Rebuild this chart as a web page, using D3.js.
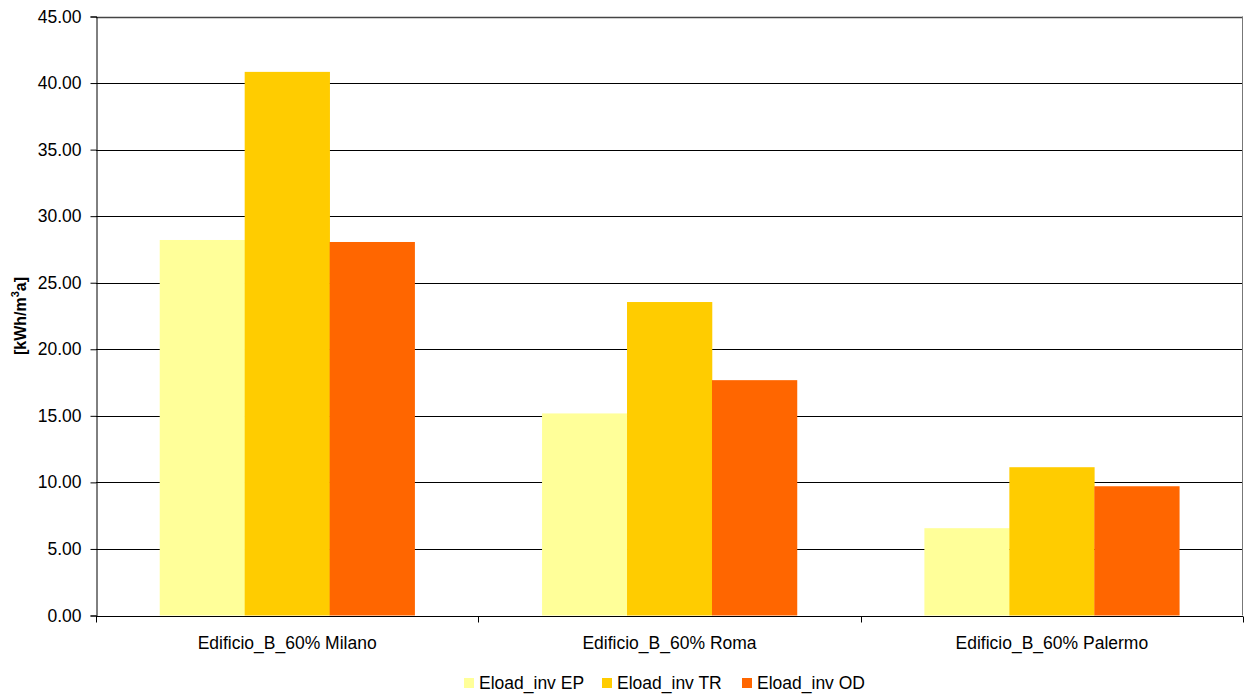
<!DOCTYPE html>
<html><head><meta charset="utf-8">
<script src="https://cdn.jsdelivr.net/npm/d3@7"></script>
<style>body{margin:0;background:#fff}svg{display:block;font-family:"Liberation Sans",Arial,sans-serif}</style>
</head><body><svg id="c" width="1244" height="697"></svg>
<script>
const categories = ["Edificio_B_60% Milano", "Edificio_B_60% Roma", "Edificio_B_60% Palermo"];
const seriesNames = ["Eload_inv EP", "Eload_inv TR", "Eload_inv OD"];
const seriesEP = [28.21, 15.18, 6.56];
const seriesTR = [40.84, 23.55, 11.14];
const seriesOD = [28.06, 17.68, 9.71];
const yTicks = [0, 5, 10, 15, 20, 25, 30, 35, 40, 45];
const colors = ["#FFFF99", "#FFCC00", "#FF6600"];
const seriesVals = [seriesEP, seriesTR, seriesOD];

const FS = 17.5;
const svg = d3.select("#c");
const L = 96, R = 1243, T = 16.5, B = 615.5;
const x = d3.scaleBand().domain(categories).range([L, R]).paddingInner(0).paddingOuter(0);
const y = d3.scaleLinear().domain([0, 45]).range([B, T]);
const inner = d3.scaleBand().domain(seriesNames).range([0, x.bandwidth()]).paddingOuter(0.75).paddingInner(0);

// gridlines
svg.append("g").selectAll("line").data(yTicks.filter(d => d > 0)).join("line")
  .attr("x1", L).attr("x2", R)
  .attr("y1", d => Math.round(y(d)) + 0.5).attr("y2", d => Math.round(y(d)) + 0.5)
  .attr("stroke", d => d === 45 ? "#444" : "#000").attr("stroke-width", d => d === 45 ? 1.5 : 1);

// right border
svg.append("line").attr("x1", R - 0.5).attr("x2", R - 0.5).attr("y1", T).attr("y2", B)
  .attr("stroke", "#777").attr("stroke-width", 1);

// bars
const g = svg.append("g");
categories.forEach((c, ci) => {
  seriesNames.forEach((s, si) => {
    const v = seriesVals[si][ci];
    g.append("rect")
      .attr("x", x(c) + inner(s))
      .attr("width", inner.bandwidth() + 0.3)
      .attr("y", y(v))
      .attr("height", y(0) - y(v))
      .attr("fill", colors[si]);
  });
});

// y axis
const yAxis = d3.axisLeft(y).tickValues(yTicks).tickFormat(d3.format(".2f")).tickSizeOuter(0).tickSize(6).tickPadding(9);
const ya = svg.append("g").attr("transform", `translate(${L + 0.5},0)`).call(yAxis);
ya.attr("font-size", FS).attr("font-family", "Liberation Sans, Arial, sans-serif");
ya.select(".domain").attr("stroke", "#000");
ya.selectAll(".tick line").attr("stroke", "#000");
ya.selectAll(".tick text").attr("fill", "#000");

// x axis
const xa = svg.append("g").attr("transform", `translate(0,${Math.round(B) + 0.5})`)
  .call(d3.axisBottom(x).tickSize(0).tickPadding(20));
xa.attr("font-size", FS).attr("font-family", "Liberation Sans, Arial, sans-serif");
xa.select(".domain").remove();
xa.append("line").attr("x1", L).attr("x2", R).attr("stroke", "#000");
xa.selectAll(".tick text").attr("fill", "#000");
const bounds = [L, ...categories.map(c => x(c) + x.bandwidth())];
xa.selectAll(".bt").data(bounds).join("line").attr("class", "bt")
  .attr("x1", d => Math.round(d) + 0.5).attr("x2", d => Math.round(d) + 0.5)
  .attr("y1", 0).attr("y2", 6).attr("stroke", "#000");

// y label
svg.append("text").attr("transform", "translate(26,316) rotate(-90)")
  .attr("text-anchor", "middle").attr("font-size", 16).attr("font-weight", "bold").attr("fill", "#000")
  .html('[kWh/m<tspan dy="-7" font-size="11">3</tspan><tspan dy="7">a]</tspan>');

// legend
const legX = [464, 602, 742];
const lg = svg.append("g");
seriesNames.forEach((s, i) => {
  lg.append("rect").attr("x", legX[i]).attr("y", 678).attr("width", 10).attr("height", 10).attr("fill", colors[i]);
  lg.append("text").attr("x", legX[i] + 15).attr("y", 689).attr("font-size", FS).attr("fill", "#000").text(s);
});
</script></body></html>
